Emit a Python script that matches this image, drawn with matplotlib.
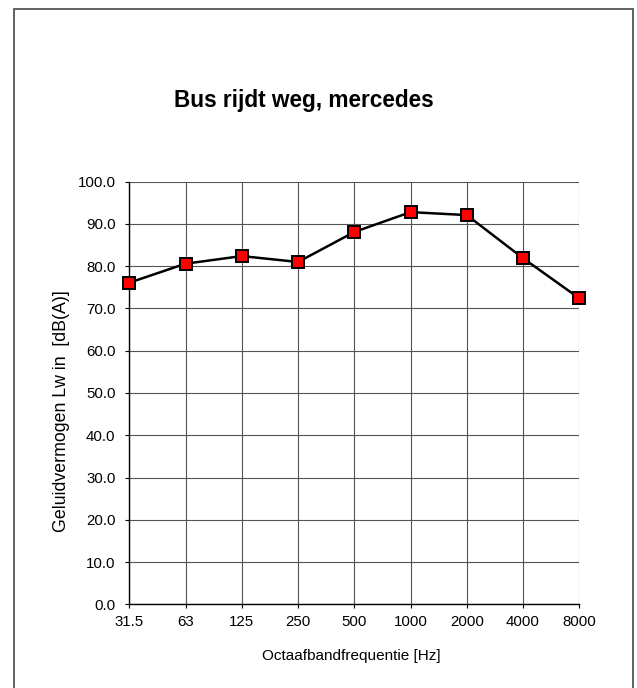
import matplotlib
matplotlib.use("Agg")
import matplotlib.pyplot as plt
from matplotlib.patches import Rectangle

categories = ["31.5", "63", "125", "250", "500", "1000", "2000", "4000", "8000"]
values = [76.1, 80.6, 82.4, 81.0, 88.1, 92.8, 92.1, 81.9, 72.4]
yticks = [0, 10, 20, 30, 40, 50, 60, 70, 80, 90, 100]

plt.rcParams['font.family'] = ['Liberation Sans', 'DejaVu Sans']

W, H = 637, 688
fig = plt.figure(figsize=(W / 100, H / 100), dpi=100)

# outer frame
fig.patches.append(Rectangle((14 / W, -0.02), (633 - 14) / W, (H - 8.5) / H + 0.02,
                             transform=fig.transFigure, fill=False,
                             edgecolor="#555555", linewidth=1.3))

ax = fig.add_axes([129.3 / W, 1 - 604.3 / H, 450 / W, (604.3 - 181.7) / H])
x = list(range(len(categories)))
ax.plot(x, values, color="black", linewidth=1.8, marker="s", markersize=9,
        markerfacecolor="#ff0000", markeredgecolor="black", markeredgewidth=1.4,
        clip_on=False, zorder=5)

ax.set_xlim(0, len(categories) - 1)
ax.set_ylim(0, 100)
ax.set_xticks(x)
ax.set_xticklabels(categories)
ax.set_yticks(yticks)
ax.set_yticklabels([f"{v:.1f}" for v in yticks])
ax.grid(True, color="#555555", linewidth=0.8)
ax.set_axisbelow(True)
for s in ["top", "right"]:
    ax.spines[s].set_visible(False)
for s in ["left", "bottom"]:
    ax.spines[s].set_color("black")
    ax.spines[s].set_linewidth(1.0)
ax.tick_params(axis="both", direction="out", length=3, width=0.8, labelsize=10.8,
               colors="black")
ax.tick_params(axis="y", pad=7)
ax.tick_params(axis="x", pad=5)

ax.set_xlabel("Octaafbandfrequentie [Hz]", fontsize=11)
ax.xaxis.set_label_coords((351 - 129.3) / 450, -(656 - 604.3) / (604.3 - 181.7))
ax.xaxis.label.set_va("center")
ax.set_ylabel("Geluidvermogen Lw in  [dB(A)]", fontsize=12.8)
ax.yaxis.set_label_coords(-(129.3 - 61) / 450, (604.3 - 411) / (604.3 - 181.7))
ax.yaxis.label.set_va("center")

fig.text(304 / W, 1 - 100 / H, "Bus rijdt weg, mercedes", ha="center", va="center",
         fontsize=16.3, fontweight="bold")

fig.savefig("out.png", dpi=100)
